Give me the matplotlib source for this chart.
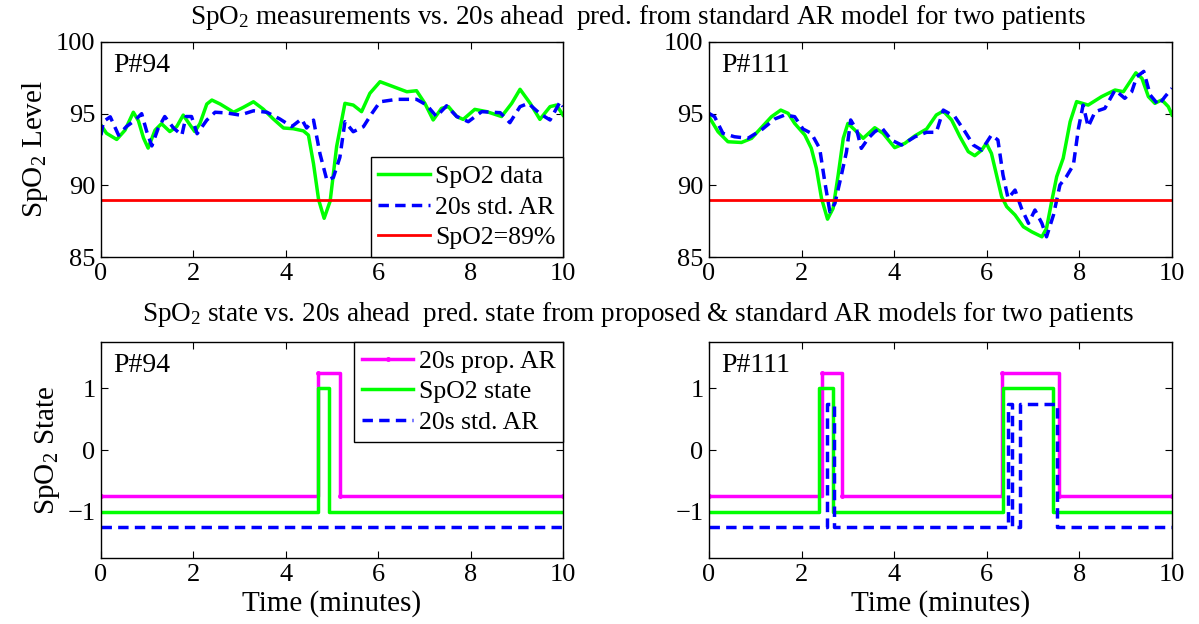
import matplotlib
matplotlib.use('Agg')
import matplotlib.pyplot as plt
import numpy as np

plt.rcParams['font.family'] = ['Liberation Serif', 'DejaVu Serif']
plt.rcParams['mathtext.fontset'] = 'custom'
plt.rcParams['mathtext.rm'] = 'Liberation Serif'
plt.rcParams['mathtext.it'] = 'Liberation Serif:italic'
plt.rcParams['font.size'] = 19

# ---- P#94, SpO2 level (minutes, %)
t94_data = [0.0, 0.12, 0.34, 0.52, 0.7, 0.81, 0.92, 1.02, 1.17, 1.31, 1.49, 1.64, 1.78, 1.93,
            2.03, 2.14, 2.29, 2.4, 2.58, 2.87, 3.08, 3.3, 3.51, 3.73, 3.95, 4.16, 4.38, 4.49,
            4.6, 4.71, 4.83, 4.96, 5.1, 5.28, 5.46, 5.64, 5.82, 6.04, 6.33, 6.62, 6.83, 7.01,
            7.19, 7.37, 7.52, 7.7, 7.84, 8.09, 8.35, 8.67, 8.89, 9.07, 9.29, 9.5, 9.72, 9.86, 10.0]
spo2_94 = [94.2, 93.63, 93.2, 93.85, 95.1, 94.5, 93.3, 92.6, 93.85, 94.3, 93.75, 94.1, 94.9, 94.2,
           93.75, 94.3, 95.67, 95.95, 95.67, 95.1, 95.44, 95.83, 95.32, 94.63, 94.0, 93.95, 93.8, 93.5,
           91.5, 89.0, 87.7, 88.9, 92.7, 95.72, 95.6, 95.14, 96.42, 97.23, 96.88, 96.53, 96.6, 95.72,
           94.56, 95.37, 95.49, 94.8, 94.6, 95.3, 95.14, 94.8, 95.72, 96.7, 95.72, 94.6, 95.49, 95.6, 94.9]
t94_ar = [0.0, 0.05, 0.2, 0.38, 0.55, 0.74, 0.88, 0.99, 1.1, 1.24, 1.38, 1.57, 1.75, 1.84,
          1.96, 2.08, 2.29, 2.47, 2.72, 3.01, 3.3, 3.59, 3.87, 4.13, 4.34, 4.45, 4.6, 4.74,
          4.89, 5.03, 5.17, 5.28, 5.46, 5.68, 5.86, 6.04, 6.4, 6.83, 7.05, 7.26, 7.48, 7.7,
          7.95, 8.24, 8.64, 8.85, 9.07, 9.25, 9.5, 9.72, 9.94, 10.0]
ar_94 = [93.5, 94.44, 94.78, 93.5, 94.1, 94.55, 95.0, 93.75, 92.75, 94.0, 94.8, 94.0, 93.5, 94.8,
         94.8, 93.6, 94.55, 95.1, 95.05, 94.9, 95.2, 95.1, 94.63, 94.1, 94.63, 94.0, 94.55, 92.2,
         90.35, 90.55, 91.95, 94.44, 93.74, 94.09, 95.0, 95.83, 96.0, 96.0, 95.6, 94.8, 95.55, 94.8,
         94.44, 95.14, 95.07, 94.37, 95.49, 95.72, 95.0, 94.56, 95.84, 95.5]

# ---- P#111, SpO2 level
t111_data = [0.0, 0.195, 0.41, 0.70, 0.92, 1.13, 1.35, 1.55, 1.71, 1.85, 2.07, 2.21, 2.32, 2.43,
             2.56, 2.68, 2.79, 2.9, 3.0, 3.15, 3.33, 3.58, 3.76, 4.01, 4.23, 4.45, 4.7, 4.91,
             5.06, 5.24, 5.42, 5.6, 5.74, 5.89, 5.99, 6.1, 6.21, 6.32, 6.43, 6.61, 6.79, 6.97,
             7.19, 7.29, 7.4, 7.51, 7.65, 7.8, 7.94, 8.19, 8.48, 8.77, 8.95, 9.22, 9.35, 9.49,
             9.63, 9.78, 9.92, 10.0]
spo2_111 = [94.79, 93.74, 93.04, 92.99, 93.28, 94.02, 94.79, 95.25, 95.02, 94.32, 93.51, 92.58, 91.18, 89.09,
            87.64, 88.39, 90.72, 93.28, 94.32, 93.86, 93.28, 94.02, 93.63, 92.63, 92.93, 93.46, 93.93, 94.91,
            95.18, 94.56, 93.39, 92.35, 92.07, 92.46, 92.93, 92.23, 90.72, 89.21, 88.51, 87.93, 87.11, 86.76,
            86.41, 87.0, 88.86, 90.61, 91.89, 94.44, 95.84, 95.6, 96.19, 96.65, 96.53, 97.85, 97.47, 96.19,
            95.72, 95.96, 95.49, 94.91]
t111_ar = [0.0, 0.12, 0.3, 0.55, 0.84, 1.13, 1.42, 1.64, 1.85, 2.03, 2.21, 2.39, 2.5, 2.61,
           2.72, 2.86, 2.97, 3.06, 3.19, 3.29, 3.44, 3.58, 3.73, 3.94, 4.16, 4.45, 4.7, 4.91,
           5.06, 5.31, 5.53, 5.71, 5.89, 6.1, 6.24, 6.35, 6.46, 6.61, 6.75, 6.9, 7.04, 7.19,
           7.29, 7.44, 7.58, 7.72, 7.87, 7.98, 8.08, 8.19, 8.34, 8.55, 8.77, 8.98, 9.13, 9.24,
           9.39, 9.53, 9.71, 9.85, 10.0]
ar_111 = [95.02, 94.79, 93.63, 93.39, 93.28, 93.86, 94.63, 94.91, 94.79, 93.93, 93.63, 92.58, 90.26, 88.16,
          88.74, 90.72, 92.35, 94.56, 93.86, 92.58, 93.28, 93.74, 94.02, 93.16, 92.81, 93.39, 93.7, 93.7,
          95.25, 94.79, 93.74, 92.81, 92.46, 93.51, 93.16, 90.72, 89.09, 89.67, 88.39, 87.35, 88.28, 87.35,
          86.41, 87.93, 90.03, 90.61, 91.42, 93.98, 95.6, 94.09, 95.14, 95.37, 96.65, 96.07, 96.53, 97.58,
          97.95, 96.3, 95.6, 96.19, 96.77]

threshold = 89

# ---- states (change times in minutes, value held until next time)
t94_state = [0.0, 4.69, 4.94, 10.0]
state_94 = [-1, 1, -1, -1]
t94_prop = [0.0, 4.70, 5.18, 10.0]
prop_94 = [-0.75, 1.25, -0.75, -0.75]
t94_std = [0.0, 10.0]
std_94 = [-1.25, -1.25]

t111_state = [0.0, 2.38, 2.67, 6.34, 7.42, 10.0]
state_111 = [-1, 1, -1, 1, -1, -1]
t111_prop = [0.0, 2.45, 2.87, 6.32, 7.55, 10.0]
prop_111 = [-0.75, 1.25, -0.75, 1.25, -0.75, -0.75]
t111_std = [0.0, 2.54, 2.70, 6.45, 6.55, 6.71, 7.51, 10.0]
std_111 = [-1.25, 0.75, -1.25, 0.75, -1.25, 0.75, -1.25, -1.25]

green = '#00ff00'
blue = '#0000ff'
red = '#ff0000'
magenta = '#ff00ff'
lw = 2.5
dash = (3.0, 1.8)

fs_tick = 19
fs_label = 21
fs_title = 19.5
fs_leg = 18.5
fs_name = 20

fig = plt.figure(figsize=(11.99, 6.24), dpi=100)
W, H = 1199.0, 624.0
def add(l, r, t, b):
    return fig.add_axes([l / W, 1 - b / H, (r - l) / W, (b - t) / H])

ax1 = add(101, 563, 42, 257)
ax2 = add(709, 1172, 42, 257)
ax3 = add(101, 563, 342, 558)
ax4 = add(709, 1172, 342, 558)

for ax in (ax1, ax2, ax3, ax4):
    ax.set_xlim(0, 10)
    ax.set_xticks(np.arange(0, 11, 2))
    ax.tick_params(direction='in', top=True, right=True, length=5, width=0.8, pad=4, labelsize=fs_tick)
    for s in ax.spines.values():
        s.set_linewidth(1.0)

# top row
for ax, td, yd, ta, ya, name in ((ax1, t94_data, spo2_94, t94_ar, ar_94, 'P#94'),
                                  (ax2, t111_data, spo2_111, t111_ar, ar_111, 'P#111')):
    ax.plot(td, yd, color=green, lw=lw, label='SpO2 data')
    ax.plot(ta, ya, color=blue, lw=lw, dashes=dash, label='20s std. AR')
    ax.axhline(threshold, color=red, lw=2, label='SpO2=89%')
    ax.set_ylim(85, 100)
    ax.set_yticks([85, 90, 95, 100])
    ax.text(0.026, 0.89, name, transform=ax.transAxes, fontsize=fs_name, va='center')

ax1.set_ylabel('SpO$_2$ Level', fontsize=fs_label, labelpad=4)
leg = ax1.legend(loc='lower right', borderaxespad=0, fancybox=False, edgecolor='black',
                 framealpha=1, handlelength=2.0, handletextpad=0.2, labelspacing=0.3,
                 borderpad=0.3, fontsize=fs_leg)
leg.get_frame().set_linewidth(1.0)

# bottom row
for ax, ts, ys, tp, yp, tsd, ysd, name in ((ax3, t94_state, state_94, t94_prop, prop_94, t94_std, std_94, 'P#94'),
                                          (ax4, t111_state, state_111, t111_prop, prop_111, t111_std, std_111, 'P#111')):
    ax.plot(tp, yp, color=magenta, lw=lw, drawstyle='steps-post', marker='.', markersize=5,
            label='20s prop. AR')
    ax.plot(ts, ys, color=green, lw=lw, drawstyle='steps-post', label='SpO2 state')
    ax.plot(tsd, ysd, color=blue, lw=lw, dashes=dash, drawstyle='steps-post', label='20s std. AR')
    ax.set_ylim(-1.75, 1.75)
    ax.set_yticks([-1, 0, 1])
    ax.text(0.026, 0.89, name, transform=ax.transAxes, fontsize=fs_name, va='center')
    ax.set_xlabel('Time (minutes)', fontsize=fs_label, labelpad=3)

ax3.set_ylabel('SpO$_2$ State', fontsize=fs_label, labelpad=4)
leg = ax3.legend(loc='upper right', borderaxespad=0, fancybox=False, edgecolor='black',
                 framealpha=1, handlelength=2.0, handletextpad=0.2, labelspacing=0.3,
                 borderpad=0.3, fontsize=fs_leg)
leg.get_frame().set_linewidth(1.0)

fig.text(0.5325, 1 - 24 / H, 'SpO$_2$ measurements vs. 20s ahead  pred. from standard AR model for two patients',
         ha='center', va='baseline', fontsize=fs_title)
fig.text(0.5325, 1 - 321 / H,
         'SpO$_2$ state vs. 20s ahead  pred. state from proposed & standard AR models for two patients',
         ha='center', va='baseline', fontsize=fs_title)

fig.savefig('out.png', dpi=100)
